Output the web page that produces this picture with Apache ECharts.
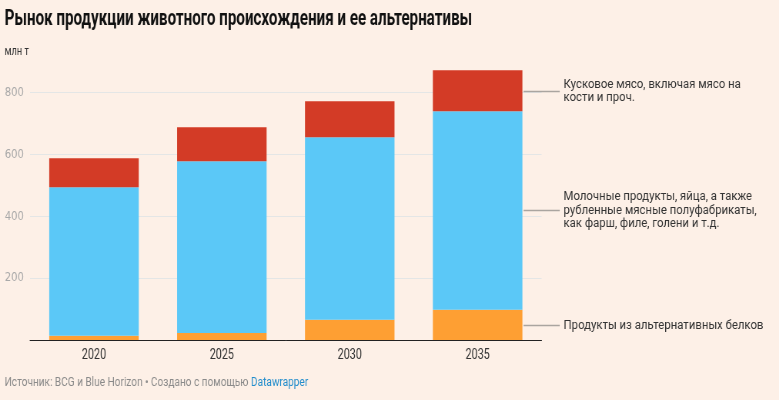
<!DOCTYPE html>
<html>
<head>
<meta charset="utf-8">
<script src="https://cdn.jsdelivr.net/npm/echarts@6/dist/echarts.min.js"></script>
<style>
  html, body { margin: 0; padding: 0; background: #fdf0e7; overflow: hidden; }
  #wrap { width: 779px; height: 400px; overflow: hidden; }
  #chart { width: 1012px; height: 400px; transform: scaleX(0.7698); transform-origin: 0 0; }
</style>
</head>
<body>
<div id="wrap"><div id="chart"></div></div>
<script>
// ---- data (млн т) ----
const categories = ['2020', '2025', '2030', '2035'];
const altProtein = [14, 23, 65, 98];      // Продукты из альтернативных белков
const dairyMinced = [479, 554, 590, 641]; // Молочные продукты, яйца, ...
const wholeMeat = [94, 110, 116, 132];    // Кусковое мясо ...
const yTicks = [0, 200, 400, 600, 800];

const seriesNames = [
  'Продукты из альтернативных белков',
  'Молочные продукты, яйца, а также\nрубленные мясные полуфабрикаты,\nкак фарш, филе, голени и т.д.',
  'Кусковое мясо, включая мясо на\nкости и проч.'
];
const colors = ['#fe9f33', '#5bc8f7', '#d33b26'];
const seriesData = [altProtein, dairyMinced, wholeMeat];

const chart = echarts.init(document.getElementById('chart'));
const font = 'Roboto, "Noto Sans", sans-serif';

chart.setOption({
  backgroundColor: '#fdf0e7',
  animation: false,
  grid: { left: 39, right: 308.5, top: 92.3, bottom: 60 },
  xAxis: {
    type: 'category',
    data: categories,
    axisLine: { lineStyle: { color: '#222', width: 1 } },
    axisTick: { show: false },
    axisLabel: { fontFamily: font, fontSize: 14, color: '#333', margin: 8 }
  },
  yAxis: {
    type: 'value',
    min: yTicks[0],
    max: yTicks[yTicks.length - 1],
    interval: 200,
    axisLine: { show: false },
    axisTick: { show: false },
    axisLabel: {
      fontFamily: '"DejaVu Sans", sans-serif', fontSize: 13, color: '#a9a9a9', margin: 8,
      formatter: v => (v === 0 ? '' : String(v))
    },
    splitLine: { lineStyle: { color: '#e4e6e6', width: 1 } }
  },
  series: seriesData.map((d, i) => ({
    type: 'bar',
    name: seriesNames[i],
    stack: 'total',
    data: d,
    barWidth: '70%',
    clip: false,
    itemStyle: { color: colors[i] },
    z: 2
  }))
});

// annotations on the right, positioned with the chart's own scales
function buildAnnotations() {
  const last = categories.length - 1;
  const c0 = chart.convertToPixel({ gridIndex: 0 }, [0, 0])[0];
  const c1 = chart.convertToPixel({ gridIndex: 0 }, [1, 0])[0];
  const bw = (c1 - c0) * 0.7;
  const cx = chart.convertToPixel({ gridIndex: 0 }, [last, 0])[0];
  const xStart = cx + bw / 2 + 1.5;
  const xEnd = xStart + 47;
  const graphics = [];
  let base = 0;
  seriesData.forEach((d, i) => {
    const mid = base + d[last] / 2;
    base += d[last];
    const y = Math.round(chart.convertToPixel({ gridIndex: 0 }, [last, mid])[1]) + 0.5;
    graphics.push({
      type: 'line',
      shape: { x1: xStart, y1: y, x2: xEnd, y2: y },
      style: { stroke: '#aaa5a0', lineWidth: 1.3 },
      silent: true
    });
    graphics.push({
      type: 'text',
      x: xEnd + 5,
      y: y,
      scaleX: 1.18,
      style: {
        text: seriesNames[i],
        fontFamily: font, fontSize: 12.5, lineHeight: 13.4,
        fill: '#333', verticalAlign: 'middle', align: 'left'
      },
      silent: true
    });
  });
  graphics.push({
    type: 'text', x: 6, y: 19, scaleX: 0.895,
    style: {
      text: 'Рынок продукции животного происхождения и ее альтернативы',
      fontFamily: font, fontSize: 22, fontWeight: 'bold', fill: '#111', verticalAlign: 'middle'
    }
  });
  graphics.push({
    type: 'text', x: 6, y: 52,
    style: { text: 'млн т', fontFamily: font, fontSize: 12, fill: '#333', verticalAlign: 'middle' }
  });
  graphics.push({
    type: 'text', x: 6, y: 383, scaleX: 1.09,
    style: {
      text: '{g|Источник: BCG и Blue Horizon • Создано с помощью }{b|Datawrapper}',
      fontFamily: font, fontSize: 12, verticalAlign: 'middle',
      rich: {
        g: { fontFamily: font, fontSize: 12, fill: '#8a8a8a', color: '#8a8a8a' },
        b: { fontFamily: font, fontSize: 12, fill: '#1f8ccc', color: '#1f8ccc' }
      }
    }
  });
  chart.setOption({ graphic: { elements: graphics } });
}
buildAnnotations();
</script>
</body>
</html>
